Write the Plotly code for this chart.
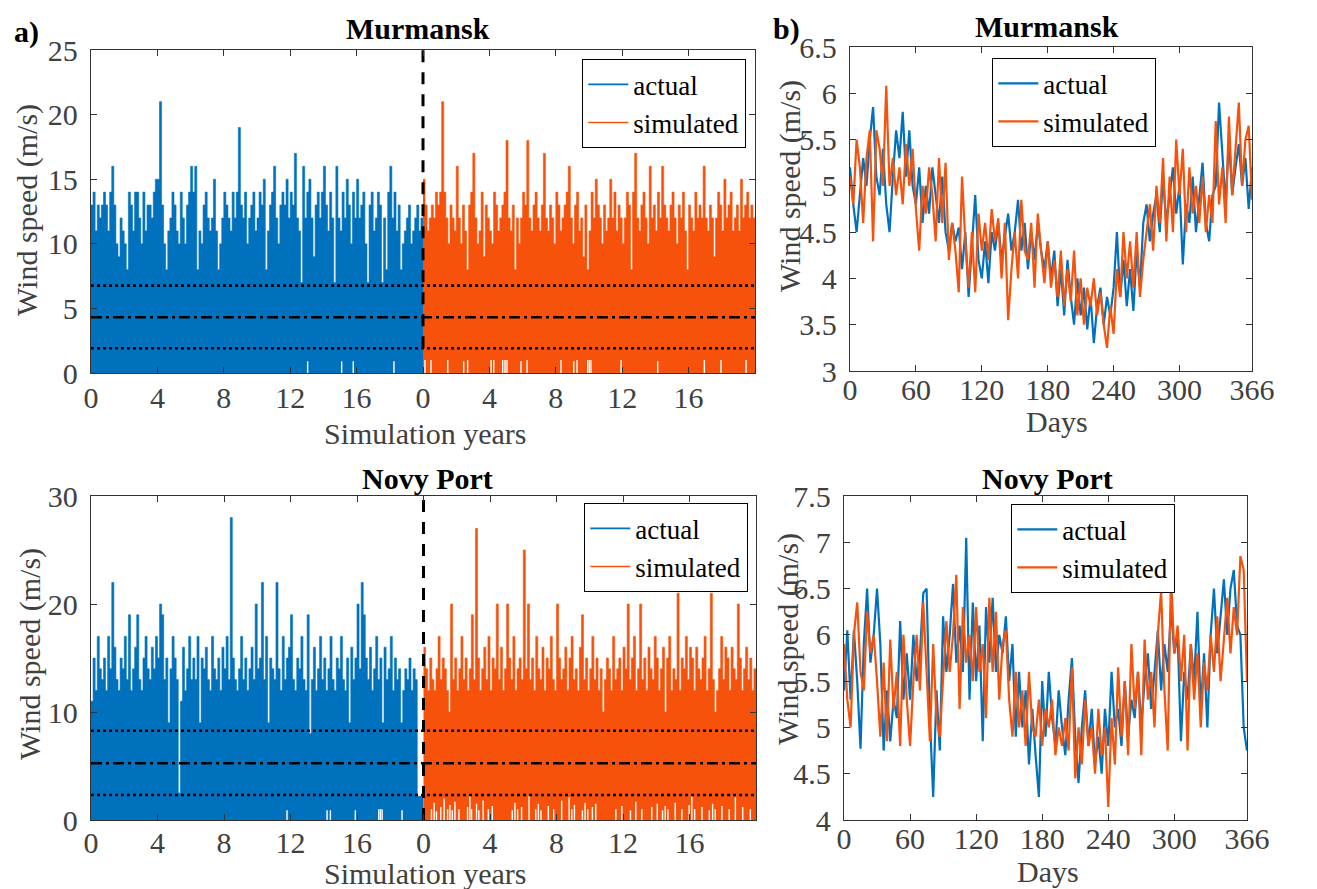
import plotly.graph_objects as go

W, H = 1317, 889          # browser window
OFF = 8                   # default page margin around the figure
FW, FH = W - OFF, H - OFF # figure size
BLUE = "#0072BD"
ORANGE = "#F7520B"
GREY = "#404040"
FONT = "Liberation Serif"

# ---------------- data: left panels (skyline of wind speed, step = 0.125 yr) ----------------
STEP = 0.125
mur_act = [13,14,11,13,12,13,14,13,11,14, 16,13,10,9,12,11,10,8,14,13,
           11,14,14,12,10,14,11,13,13,12, 14,15,15,21,13,10,8,11,12,14,
           13,11,10,14,12,10,13,14,16,14, 16,8,11,10,13,14,12,11,12,15,
           11,8,10,12,14,13,12,11,14,12, 14,19,13,12,14,10,12,13,14,11,
           12,14,13,15,8,11,13,14,16,12, 10,13,14,13,15,12,14,13,17,12,
           11,7,16,12,14,15,12,9,13,14, 12,14,16,13,11,14,12,7,16,12,
           11,14,12,15,13,10,14,12,15,12, 13,14,10,7,13,14,11,12,14,13,
           7,12,8,14,16,12,14,11,13,8, 10,11,12,13,10,11,12,13,11,12]
mur_sim = [15,13,11,12,13,12,14,13,14,21, 14,12,10,13,12,11,16,12,10,13,
           11,8,13,14,17,12,10,11,14,9, 13,12,11,10,14,13,11,12,13,14,
           18,12,11,13,8,12,10,12,14,13, 18,12,11,13,14,12,11,13,17,12,
           11,13,12,10,14,13,11,12,13,14, 16,12,10,13,14,11,12,9,13,8,
           11,14,12,15,13,12,10,13,11,12, 15,12,14,11,13,12,10,12,14,13,
           8,14,17,12,11,13,14,12,10,16, 12,13,11,14,12,16,13,12,11,13,
           14,12,10,13,12,14,11,8,13,12, 11,14,12,13,12,16,12,11,13,12,
           9,12,14,13,11,15,12,13,14,11, 12,13,11,15,12,13,14,12,13,12]
nov_act = [11,15,12,17,14,13,15,12,17,14, 22,16,13,12,15,14,17,13,19,12,
           14,16,19,13,12,15,17,14,13,16, 14,17,15,20,19,13,15,9,14,17,
           15,13,2.5,11,16,12,14,17,13,15, 13,17,9,15,14,16,13,12,17,14,
           13,15,12,16,14,17,13,28,15,13, 12,14,17,13,15,12,14,16,13,20,
           14,15,22,13,17,9,15,14,13,22, 14,12,17,13,15,16,19,13,12,15,
           14,17,13,12,19,8,13,16,12,14, 17,13,15,12,14,17,13,12,15,14,
           17,13,12,15,9,16,13,15,20,14, 22,19,15,13,16,12,14,17,13,15,
           9,16,13,14,17,12,15,13,14,9, 12,14,13,15,12,14,13,2.2,2.2,2.2]
nov_sim = [16,14,12,15,13,12,14,17,13,15, 14,12,10,20,13,15,12,14,17,13,
           15,12,14,19,13,27,15,12,14,16, 13,17,12,15,14,20,13,16,12,14,
           20,15,13,17,12,14,15,13,25,14, 20,13,15,12,17,14,13,16,12,15,
           14,17,13,12,20,15,13,14,16,12, 15,17,13,14,12,16,19,13,15,12,
           14,17,13,15,12,14,10,13,15,14, 12,17,13,14,15,12,16,14,20,13,
           15,17,12,14,20,13,15,12,16,14, 13,17,15,12,14,16,10,15,17,12,
           14,13,21,12,15,14,17,13,16,15, 12,16,14,13,15,17,12,14,21,13,
           10,12,14,17,13,16,15,12,16,14, 13,20,15,12,14,16,13,15,12,14]

# places where the series stays above zero (white notches at the bottom)
mur_act_gap_x = [13.05, 15.1, 15.8, 18.25]
mur_act_gap_h = [0.9, 0.9, 0.9, 0.9]
mur_sim_gap_x = [20.12, 20.48, 21.49, 22.45, 22.69, 24.1, 24.26, 24.8, 24.94, 25.06, 25.9, 26.27,
                 28.31, 29.08, 29.28, 29.92, 30.02, 30.12, 31.93, 34.14, 36.95, 37.95, 39.46]
mur_sim_gap_h = [1.0, 1.0, 1.0, 0.9, 1.0, 1.0, 1.0, 1.0, 1.0, 1.0, 0.9, 1.0,
                 1.0, 0.9, 1.0, 1.0, 1.0, 1.0, 1.0, 0.9, 1.0, 1.0, 1.0]
nov_act_gap_x = [11.79, 14.2, 14.4, 15.9, 17.31, 17.41, 17.51, 18.71]
nov_act_gap_h = [0.9, 0.9, 0.9, 0.9, 1.0, 1.0, 1.0, 0.9]
nov_sim_gap_x = [20.48, 20.64, 20.78, 21.04, 21.24, 21.45, 21.59, 21.73, 21.89, 22.13, 22.65, 22.79,
                 22.89, 23.19, 23.33, 23.59, 23.90, 24.14, 25.34, 25.50, 25.66, 25.90, 26.35, 26.75,
                 26.91, 27.07, 27.51, 27.83, 28.31, 28.76, 28.92, 29.08, 29.56, 29.72, 29.88, 30.16,
                 30.36, 31.57, 31.93, 32.45, 32.77, 33.13, 33.73, 34.06, 34.38, 34.54, 34.70, 35.14,
                 35.54, 35.98, 36.14, 36.31, 36.75, 37.19, 37.39, 37.55, 37.95, 38.39, 38.76, 39.20, 39.66]
nov_sim_gap_h = [1.0, 1.6, 0.8, 1.2, 2.0, 1.0, 1.4, 0.9, 1.7, 1.0, 1.2, 2.2,
                 1.0, 1.5, 0.9, 1.8, 1.0, 1.3, 0.9, 1.6, 1.0, 1.2, 2.2, 1.0,
                 1.5, 0.9, 1.3, 1.0, 1.8, 2.1, 1.0, 1.4, 0.9, 1.6, 1.0, 1.2,
                 1.5, 1.0, 1.3, 0.9, 1.7, 1.0, 1.2, 1.5, 0.9, 1.3, 1.0, 1.6,
                 1.0, 1.4, 2.2, 1.0, 1.2, 0.9, 1.5, 1.0, 1.3, 1.0, 2.1, 1.2, 1.0]

mur_levels = [1.91, 4.31, 6.76]   # mean - sd, mean, mean + sd
nov_levels = [2.31, 5.25, 8.27]

year_ticks = [0, 4, 8, 12, 16, 20, 24, 28, 32, 36]
year_labels = ["0", "4", "8", "12", "16", "0", "4", "8", "12", "16"]

# ---------------- data: right panels (daily mean over the year, every 3rd day) ----------------
days = list(range(0, 366, 3)) + [366]
mur_day_act = [5.2,4.8,4.5,4.9,5.3,5.0,5.5,5.85,5.1,4.9,
               5.4,4.8,4.5,5.1,5.6,5.3,5.8,5.1,5.6,5.0,
               4.8,5.2,4.6,5.0,4.7,5.2,4.9,4.6,5.1,4.5,
               4.3,4.6,4.4,4.55,4.1,4.5,3.8,4.3,4.9,4.2,
               4.0,4.4,3.95,4.5,4.3,4.6,4.2,4.45,4.7,4.3,
               4.5,4.85,4.3,4.6,4.1,4.5,4.2,4.6,4.3,4.1,
               4.4,4.0,4.3,3.7,4.1,3.6,4.2,3.8,3.5,4.0,
               3.6,3.9,3.45,3.8,3.3,3.7,3.9,3.5,3.8,3.6,
               3.9,4.5,3.8,4.2,3.7,4.1,3.65,4.3,3.9,4.6,
               4.8,4.4,4.7,4.9,4.5,5.1,4.6,4.9,5.2,4.7,
               5.0,4.15,4.8,4.6,5.1,4.5,4.9,5.25,4.6,4.4,
               4.9,5.0,5.9,5.3,4.8,5.5,4.9,5.2,5.45,5.0,
               5.3,4.75,5.2]
mur_day_sim = [5.1,4.8,5.5,5.2,4.6,5.3,5.6,4.4,5.6,5.4,
               5.0,6.08,5.0,5.3,4.9,5.2,4.8,5.45,5.0,5.4,
               4.75,4.3,5.0,4.7,5.2,4.9,4.4,5.3,4.6,5.25,
               4.2,4.6,4.3,3.85,5.1,4.4,3.9,4.5,3.85,4.7,
               4.3,4.6,4.2,4.75,4.4,4.65,4.0,4.6,3.55,4.1,
               4.5,4.0,4.85,4.3,4.2,4.6,3.9,4.7,4.3,3.95,
               4.4,3.9,4.2,3.8,4.3,3.7,4.1,3.75,4.3,3.6,
               4.0,3.5,3.9,3.7,4.0,3.6,3.85,3.5,3.25,3.7,
               3.4,4.1,3.8,4.5,4.0,4.4,3.9,4.5,3.8,4.2,
               4.5,4.8,4.3,5.0,4.6,5.3,4.4,5.1,4.5,5.5,
               4.9,5.4,4.5,5.2,4.7,5.0,4.6,5.1,4.5,4.9,
               4.6,5.7,4.8,5.2,4.6,5.75,4.9,5.4,5.9,5.0,
               5.5,5.65,4.85]
nov_day_act = [5.4,6.05,5.3,6.05,5.5,4.77,5.9,6.5,5.7,6.0,
               6.5,5.9,4.75,5.4,4.85,5.3,5.1,6.15,5.3,5.8,
               5.3,6.0,5.5,5.8,6.45,6.5,5.1,4.25,5.4,4.75,
               6.2,5.6,6.0,6.55,5.7,6.1,5.6,7.05,5.3,6.35,
               5.5,6.1,4.85,6.3,5.7,6.4,5.6,6.0,5.8,6.2,
               5.5,5.9,4.9,5.6,5.0,5.4,4.6,5.2,4.7,4.25,
               5.5,4.9,5.6,5.1,4.8,5.4,5.0,4.7,5.3,5.75,
               4.9,4.4,5.0,5.4,4.8,5.2,4.6,4.9,4.5,5.2,
               4.8,5.6,5.0,5.2,4.8,5.5,4.9,5.3,5.1,5.6,
               5.0,5.5,5.8,5.2,5.6,6.05,5.4,5.9,5.6,6.3,
               5.8,6.0,4.85,5.6,5.3,5.9,5.5,6.25,5.2,5.8,
               5.0,6.0,6.5,5.8,6.2,6.6,6.0,6.5,6.7,6.1,
               6.0,5.0,4.75]
nov_day_sim = [5.9,5.3,5.0,6.0,6.35,5.6,5.4,6.25,5.8,6.0,
               5.5,4.9,5.7,4.85,5.95,5.2,5.6,4.8,6.0,5.3,
               4.8,5.5,6.0,5.4,6.35,5.6,4.85,5.9,5.1,4.9,
               5.5,6.15,5.6,6.0,6.65,5.2,6.3,5.7,6.0,5.5,
               6.3,5.6,5.9,5.1,6.4,5.6,6.25,5.3,5.9,6.05,
               5.3,4.9,5.6,5.0,5.4,4.8,5.6,5.0,4.9,5.3,
               4.8,5.2,5.0,5.3,4.7,5.0,4.8,5.1,4.75,5.65,
               4.45,5.0,4.6,5.3,4.8,5.0,4.5,5.2,4.7,5.0,
               4.14,5.1,4.6,5.65,4.9,5.5,4.7,5.9,5.2,5.6,
               4.7,5.95,5.3,5.6,5.0,6.0,6.48,5.4,4.75,6.65,
               5.8,6.1,5.5,6.0,4.75,5.9,5.3,5.8,5.0,5.7,
               5.4,6.0,5.6,6.2,5.5,6.0,6.4,5.8,6.3,6.0,
               6.85,6.7,5.5]
day_ticks = [0, 60, 120, 180, 240, 300, 366]


# ---------------- helpers (window pixel -> figure paper fraction) ----------------
def px(x):
    return (x - OFF) / FW


def py(y):
    return 1 - (y - OFF) / FH


fig = go.Figure()


def add_skyline(vals, x0, color, xa, ya):
    xs = [x0 + i * STEP for i in range(len(vals))] + [x0 + len(vals) * STEP]
    ys = list(vals) + [vals[-1]]
    fig.add_trace(go.Scatter(x=xs, y=ys, mode="lines", line=dict(color=color, width=0.6, shape="hv"),
                             fill="tozeroy", fillcolor=color, showlegend=False, hoverinfo="skip",
                             xaxis=xa, yaxis=ya))


def add_gaps(gx, gh, xa, ya):
    xs, ys = [], []
    for g, h in zip(gx, gh):
        xs += [g, g, None]
        ys += [0, h, None]
    fig.add_trace(go.Scatter(x=xs, y=ys, mode="lines", line=dict(color="white", width=1.4),
                             showlegend=False, hoverinfo="skip", xaxis=xa, yaxis=ya))


def add_levels(levels, xa, ya, vbottom, vtop):
    xmax = len(mur_act) * STEP * 2
    for lev, dash in zip(levels, ["3px,3px", "11px,4px,3px,4px", "3px,3px"]):
        fig.add_trace(go.Scatter(x=[0, xmax], y=[lev, lev], mode="lines",
                                 line=dict(color="black", width=2.6, dash=dash),
                                 showlegend=False, hoverinfo="skip", xaxis=xa, yaxis=ya))
    half = len(mur_act) * STEP
    fig.add_trace(go.Scatter(x=[half, half], y=[vbottom, vtop], mode="lines",
                             line=dict(color="black", width=3, dash="12px,10px"),
                             showlegend=False, hoverinfo="skip", xaxis=xa, yaxis=ya))


def add_legend_entries(leg, xa, ya):
    for name, color in [("actual", BLUE), ("simulated", ORANGE)]:
        fig.add_trace(go.Scatter(x=[None], y=[None], mode="lines", name=name,
                                 line=dict(color=color, width=1.6), legend=leg, xaxis=xa, yaxis=ya))


# top-left : Murmansk
add_skyline(mur_act, 0, BLUE, "x", "y")
add_skyline(mur_sim, 20, ORANGE, "x", "y")
add_gaps(mur_act_gap_x + mur_sim_gap_x, mur_act_gap_h + mur_sim_gap_h, "x", "y")
add_levels(mur_levels, "x", "y", mur_levels[0], 25)
add_legend_entries("legend", "x", "y")

# bottom-left : Novy Port
add_skyline(nov_act, 0, BLUE, "x2", "y2")
add_skyline(nov_sim, 20, ORANGE, "x2", "y2")
add_gaps(nov_act_gap_x + nov_sim_gap_x, nov_act_gap_h + nov_sim_gap_h, "x2", "y2")
add_levels(nov_levels, "x2", "y2", 0, 30)
add_legend_entries("legend2", "x2", "y2")

# right panels
for xa, ya, act, sim, leg in [("x3", "y3", mur_day_act, mur_day_sim, "legend3"),
                              ("x4", "y4", nov_day_act, nov_day_sim, "legend4")]:
    fig.add_trace(go.Scatter(x=days, y=act, mode="lines", name="actual",
                             line=dict(color=BLUE, width=2.2), legend=leg, xaxis=xa, yaxis=ya))
    fig.add_trace(go.Scatter(x=days, y=sim, mode="lines", name="simulated",
                             line=dict(color=ORANGE, width=2.2), legend=leg, xaxis=xa, yaxis=ya))

axis_common = dict(showgrid=False, zeroline=False, showline=True, linecolor="#333333", linewidth=1.4,
                   mirror="ticks", ticks="inside", ticklen=6, tickwidth=1.2, tickcolor="#333333",
                   automargin=False,
                   tickfont=dict(family=FONT, size=30, color=GREY))

layout = dict(
    width=FW, height=FH, autosize=False,
    margin=dict(l=0, r=0, t=0, b=0, pad=0, autoexpand=False),
    paper_bgcolor="white", plot_bgcolor="white", font=dict(family=FONT),
    xaxis=dict(axis_common, domain=[px(91), px(755)], range=[0, 40], anchor="y",
               tickvals=year_ticks, ticktext=year_labels, ticklabelstandoff=-2),
    yaxis=dict(axis_common, domain=[py(373), py(50)], range=[0, 25], anchor="x",
               tickvals=[0, 5, 10, 15, 20, 25], ticklabelstandoff=6),
    xaxis2=dict(axis_common, domain=[px(91), px(756)], range=[0, 40], anchor="y2",
                tickvals=year_ticks, ticktext=year_labels, ticklabelstandoff=-4),
    yaxis2=dict(axis_common, domain=[py(820), py(496)], range=[0, 30], anchor="x2",
                tickvals=[0, 10, 20, 30], ticklabelstandoff=6),
    xaxis3=dict(axis_common, domain=[px(850), px(1252)], range=[0, 366], anchor="y3",
                tickvals=day_ticks, ticklabelstandoff=-8),
    yaxis3=dict(axis_common, domain=[py(371), py(47)], range=[3, 6.5], anchor="x3",
                tickvals=[3, 3.5, 4, 4.5, 5, 5.5, 6, 6.5],
                ticktext=["3", "3.5", "4", "4.5", "5", "5.5", "6", "6.5"], ticklabelstandoff=6),
    xaxis4=dict(axis_common, domain=[px(844), px(1247)], range=[0, 366], anchor="y4",
                tickvals=day_ticks, ticklabelstandoff=-8),
    yaxis4=dict(axis_common, domain=[py(820), py(496)], range=[4, 7.5], anchor="x4",
                tickvals=[4, 4.5, 5, 5.5, 6, 6.5, 7, 7.5],
                ticktext=["4", "4.5", "5", "5.5", "6", "6.5", "7", "7.5"], ticklabelstandoff=6),
)

leg_common = dict(bgcolor="white", bordercolor="black", borderwidth=1.3,
                  font=dict(family=FONT, size=27, color="black"),
                  xanchor="right", yanchor="top", tracegroupgap=0, itemwidth=40)
layout["legend"] = dict(leg_common, x=px(746), y=py(59))
layout["legend2"] = dict(leg_common, x=px(748), y=py(503))
layout["legend3"] = dict(leg_common, x=px(1156), y=py(58))
layout["legend4"] = dict(leg_common, x=px(1175), y=py(504))

annos = []


def text(x, y, s, size=30, bold=False, color="black", angle=0):
    annos.append(dict(x=px(x), y=py(y), xref="paper", yref="paper", text=f"<b>{s}</b>" if bold else s,
                      showarrow=False, textangle=angle, xanchor="center", yanchor="middle",
                      font=dict(family=FONT, size=size, color=color)))


text(26, 32, "a)", bold=True)
text(786, 29, "b)", bold=True)
text(418, 28, "Murmansk", bold=True)
text(1047, 27, "Murmansk", bold=True)
text(427, 478, "Novy Port", bold=True)
text(1047, 478, "Novy Port", bold=True)
text(27, 210, "Wind speed (m/s)", color=GREY, angle=-90)
text(30, 654, "Wind speed (m/s)", color=GREY, angle=-90)
text(790, 186, "Wind speed (m/s)", color=GREY, angle=-90)
text(788, 639, "Wind speed (m/s)", color=GREY, angle=-90)
text(425, 433, "Simulation years", color=GREY)
text(425, 873, "Simulation years", color=GREY)
text(1057, 422, "Days", color=GREY)
text(1048, 871, "Days", color=GREY)
layout["annotations"] = annos

fig.update_layout(**layout)
fig.write_html("out.html")
